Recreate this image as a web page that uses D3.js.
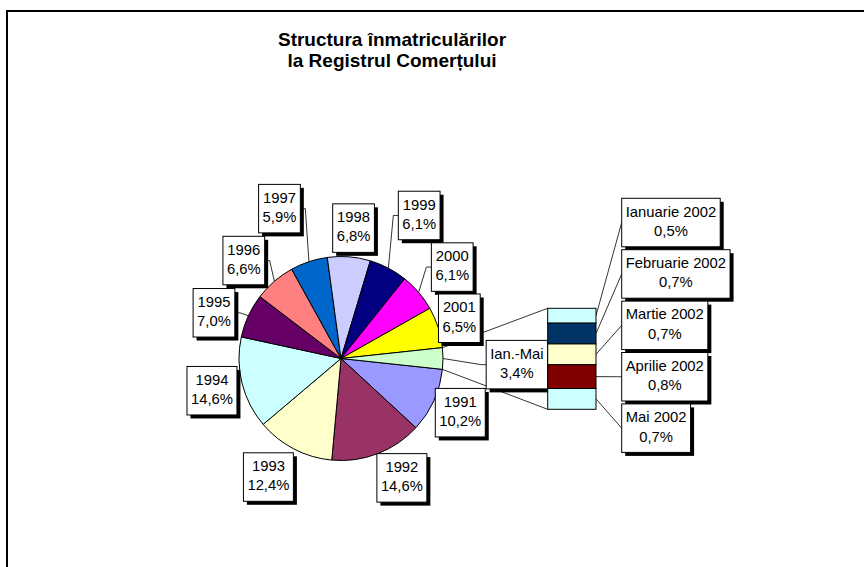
<!DOCTYPE html>
<html>
<head>
<meta charset="utf-8">
<script src="https://cdn.jsdelivr.net/npm/d3@7"></script>
<style>
  body { margin: 0; background: #fff; }
  svg { display: block; font-family: "Liberation Sans", Arial, sans-serif; }
  .lbl text { font-size: 14.8px; fill: #000; }
</style>
</head>
<body>
<svg id="chart" width="864" height="567"></svg>
<script>
// main pie: years + first months of 2002 grouped
var years = ['1991', '1992', '1993', '1994', '1995', '1996', '1997', '1998', '1999', '2000', '2001', 'Ian.-Mai'];
var shares = [10.2, 14.6, 12.4, 14.6, 7.0, 6.6, 5.9, 6.8, 6.1, 6.1, 6.5, 3.4];
var pieColors = ['#9999FF', '#993366', '#FFFFCC', '#CCFFFF', '#660066', '#FF8080',
                 '#0066CC', '#CCCCFF', '#000080', '#FF00FF', '#FFFF00', '#CCFFCC'];

// secondary bar: split of the last slice
var months = ['Ianuarie 2002', 'Februarie 2002', 'Martie 2002', 'Aprilie 2002', 'Mai 2002'];
var monthShares = [0.5, 0.7, 0.7, 0.8, 0.7];
var barColors = ['#CCFFFF', '#003366', '#FFFFCC', '#800000', '#CCFFFF'];

var titleLines = ['Structura înmatriculărilor', 'la Registrul Comerțului'];

// where the labels were dragged to: [distance from centre, angle shift in degrees]
var labelPlace = [[131, 0], [134, -6], [139, 4], [133, 0], [135, -5], [138, -4],
                  [162, -4], [131, 1], [163, 1], [144, 1], [125, -1], [176, 2]];

var cx = 341, cy = 358.5, radius = 102;
var bar = { x: 547.7, w: 48.3, top: 308.3, bottom: 409.3 };
var boxH = 48.5, shadow = 3.5;

var svg = d3.select('#chart');
svg.append('rect').attr('width', 864).attr('height', 567).attr('fill', '#fff');
// chart area frame (only top and left edges fit in the window)
svg.append('rect').attr('x', 7).attr('y', 11).attr('width', 900).attr('height', 600)
  .attr('fill', 'none').attr('stroke', '#000').attr('stroke-width', 2);

svg.append('g').selectAll('text').data(titleLines).enter().append('text')
  .attr('x', 392).attr('y', function (d, i) { return 46 + i * 20.5; })
  .attr('text-anchor', 'middle').attr('font-weight', 'bold').attr('font-size', '19px')
  .text(function (d) { return d; });

var gPie = svg.append('g');
var gLines = svg.append('g');
var gLabels = svg.append('g').attr('class', 'lbl');

function fmt(v) { return v.toFixed(1).replace('.', ',') + '%'; }

function polar(a, r) { return [cx + r * Math.sin(a), cy - r * Math.cos(a)]; }

// grouped slice is centred on 3 o'clock, the rest run clockwise from it
var total = d3.sum(shares);
var start = Math.PI / 2 + Math.PI * shares[shares.length - 1] / total;
var pie = d3.pie().sort(null).value(function (d) { return d; })
  .startAngle(start).endAngle(start + 2 * Math.PI);
var arcs = pie(shares);
var arc = d3.arc().innerRadius(0).outerRadius(radius);

gPie.attr('transform', 'translate(' + cx + ',' + cy + ')')
  .selectAll('path').data(arcs).enter().append('path')
  .attr('d', arc)
  .attr('fill', function (d, i) { return pieColors[i]; })
  .attr('stroke', '#000').attr('stroke-width', 1);

// stacked bar for the months
var y = d3.scaleLinear().domain([0, d3.sum(monthShares)]).range([bar.top, bar.bottom]);
var cum = d3.cumsum(monthShares);
var segs = monthShares.map(function (v, i) { return { v: v, y0: cum[i] - v, y1: cum[i] }; });

// connector lines between the grouped slice and the bar
var other = arcs[arcs.length - 1];
var p0 = polar(other.startAngle, radius), p1 = polar(other.endAngle, radius);
gLines.append('line').attr('x1', p0[0]).attr('y1', p0[1]).attr('x2', bar.x).attr('y2', y(0));
gLines.append('line').attr('x1', p1[0]).attr('y1', p1[1]).attr('x2', bar.x).attr('y2', y(d3.sum(monthShares)));

svg.append('g').selectAll('rect').data(segs).enter().append('rect')
  .attr('x', bar.x).attr('width', bar.w)
  .attr('y', function (d) { return y(d.y0); })
  .attr('height', function (d) { return y(d.y1) - y(d.y0); })
  .attr('fill', function (d, i) { return barColors[i]; })
  .attr('stroke', '#000').attr('stroke-width', 1);

function labelBox(x, top, lines, anchor) {
  var g = gLabels.append('g');
  var t = g.selectAll('text').data(lines).enter().append('text')
    .attr('y', function (d, i) { return top + 18.3 + i * 19.3; })
    .attr('text-anchor', 'middle').text(function (d) { return d; });
  var w = d3.max(t.nodes(), function (n) { return n.getComputedTextLength(); }) + 8;
  var left = anchor == 'start' ? x : x - w / 2;
  t.attr('x', left + w / 2);
  g.insert('rect', 'text').attr('x', left + shadow).attr('y', top + shadow)
    .attr('width', w).attr('height', boxH).attr('fill', '#000');
  g.insert('rect', 'text').attr('x', left).attr('y', top)
    .attr('width', w).attr('height', boxH).attr('fill', '#fff')
    .attr('stroke', '#000').attr('stroke-width', 1);
  return { left: left, right: left + w, top: top, bottom: top + boxH, cy: top + boxH / 2 };
}

arcs.forEach(function (d, i) {
  var mid = (d.startAngle + d.endAngle) / 2;
  var c = polar(mid + labelPlace[i][1] * Math.PI / 180, labelPlace[i][0]);
  var b = labelBox(c[0], c[1] - boxH / 2, [years[i], fmt(shares[i])], 'middle');
  // leader line only when the box sits away from the pie edge
  var p = polar(mid, radius);
  var dx = Math.max(b.left - p[0], 0, p[0] - b.right);
  var dy = Math.max(b.top - p[1], 0, p[1] - b.bottom);
  if (Math.sqrt(dx * dx + dy * dy) > 8) {
    var ax, ay, ex, ey;
    if (p[0] > b.right) { ax = b.right; ay = b.cy; ex = ax + 5; ey = ay; }
    else if (p[0] < b.left) { ax = b.left; ay = b.cy; ex = ax - 5; ey = ay; }
    else { ax = (b.left + b.right) / 2; ay = p[1] > b.bottom ? b.bottom : b.top; ex = ax; ey = ay; }
    gLines.append('polyline').attr('points', [[ax, ay], [ex, ey], p].join(' '));
  }
});

// month labels stacked to the right of the bar
segs.forEach(function (s, i) {
  var top = 198.3 + i * 51.4;
  var b = labelBox(bar.x + bar.w + 25.7, top, [months[i], fmt(s.v)], 'start');
  var my = y((s.y0 + s.y1) / 2);
  gLines.append('line').attr('x1', bar.x + bar.w).attr('y1', my).attr('x2', b.left).attr('y2', b.cy);
});

gLines.selectAll('line, polyline').attr('stroke', '#000').attr('stroke-width', 0.8).attr('fill', 'none');
</script>
</body>
</html>
